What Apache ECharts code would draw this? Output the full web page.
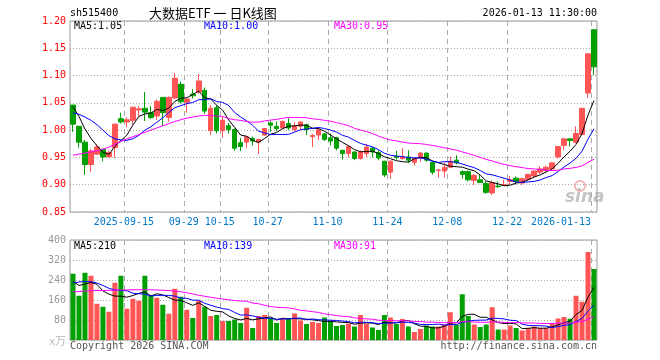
<!DOCTYPE html>
<html><head><meta charset="utf-8">
<script src="https://cdn.jsdelivr.net/npm/echarts@6/dist/echarts.min.js"></script>
<style>html,body{margin:0;padding:0;background:#fff}#c{width:660px;height:360px}</style>
</head><body><div id="c"></div>
<script>
const dates = ['2025-09-02','2025-09-03','2025-09-04','2025-09-05','2025-09-08','2025-09-09','2025-09-10','2025-09-11','2025-09-12','2025-09-15','2025-09-16','2025-09-17','2025-09-18','2025-09-19','2025-09-22','2025-09-23','2025-09-24','2025-09-25','2025-09-26','2025-09-29','2025-09-30','2025-10-09','2025-10-10','2025-10-13','2025-10-14','2025-10-15','2025-10-16','2025-10-17','2025-10-20','2025-10-21','2025-10-22','2025-10-23','2025-10-24','2025-10-27','2025-10-28','2025-10-29','2025-10-30','2025-10-31','2025-11-03','2025-11-04','2025-11-05','2025-11-06','2025-11-07','2025-11-10','2025-11-11','2025-11-12','2025-11-13','2025-11-14','2025-11-17','2025-11-18','2025-11-19','2025-11-20','2025-11-21','2025-11-24','2025-11-25','2025-11-26','2025-11-27','2025-11-28','2025-12-01','2025-12-02','2025-12-03','2025-12-04','2025-12-05','2025-12-08','2025-12-09','2025-12-10','2025-12-11','2025-12-12','2025-12-15','2025-12-16','2025-12-17','2025-12-18','2025-12-19','2025-12-22','2025-12-23','2025-12-24','2025-12-25','2025-12-26','2025-12-29','2025-12-30','2025-12-31','2026-01-05','2026-01-06','2026-01-07','2026-01-08','2026-01-09','2026-01-12','2026-01-13'];

const opens  = [1.046,1.007,0.978,0.937,0.956,0.965,0.951,0.968,1.021,1.015,1.018,1.037,1.040,1.032,1.026,1.060,1.023,1.059,1.084,1.051,1.066,1.070,1.073,0.999,1.041,0.999,1.008,1.001,0.977,0.978,0.985,0.978,0.991,1.013,1.007,1.004,1.012,1.001,1.007,1.010,0.988,0.991,0.993,0.986,0.986,0.963,0.957,0.960,0.948,0.957,0.967,0.959,0.943,0.923,0.952,0.948,0.951,0.941,0.949,0.958,0.941,0.926,0.925,0.932,0.945,0.924,0.924,0.908,0.909,0.902,0.885,0.8975,0.899,0.906,0.912,0.903,0.910,0.916,0.923,0.926,0.929,0.951,0.972,0.984,0.978,0.992,1.068,1.184];
const closes = [1.011,0.978,0.937,0.962,0.969,0.951,0.959,1.011,1.015,1.019,1.042,1.039,1.033,1.023,1.053,1.032,1.060,1.095,1.052,1.057,1.063,1.090,1.035,1.040,0.999,1.018,1.001,0.967,0.970,0.988,0.980,0.983,1.003,1.009,1.003,1.016,1.004,1.008,1.015,1.001,0.990,1.001,0.983,0.980,0.967,0.957,0.970,0.948,0.960,0.969,0.960,0.949,0.918,0.943,0.950,0.951,0.945,0.948,0.958,0.945,0.923,0.927,0.932,0.943,0.940,0.919,0.909,0.917,0.904,0.886,0.904,0.8965,0.900,0.909,0.906,0.911,0.919,0.925,0.929,0.932,0.940,0.970,0.984,0.981,0.994,1.040,1.140,1.116];
const lows   = [0.997,0.968,0.918,0.923,0.955,0.943,0.950,0.949,1.012,1.005,1.010,1.025,1.017,1.020,1.019,1.008,1.015,1.057,1.049,1.032,1.058,1.066,1.030,0.991,0.994,0.986,0.994,0.962,0.962,0.967,0.972,0.956,0.989,0.997,0.998,1.002,1.000,0.998,1.000,0.991,0.969,0.982,0.980,0.972,0.963,0.946,0.950,0.945,0.946,0.951,0.950,0.945,0.914,0.911,0.946,0.946,0.940,0.935,0.942,0.942,0.919,0.913,0.913,0.930,0.937,0.911,0.906,0.900,0.903,0.883,0.881,0.894,0.898,0.900,0.900,0.900,0.908,0.913,0.919,0.923,0.926,0.948,0.963,0.970,0.976,0.990,1.059,1.101];
const highs  = [1.046,1.008,0.982,0.965,0.974,0.966,0.963,1.012,1.032,1.024,1.043,1.044,1.070,1.044,1.056,1.060,1.062,1.105,1.089,1.058,1.075,1.103,1.078,1.046,1.046,1.024,1.013,1.003,0.986,0.989,0.988,0.984,1.004,1.017,1.016,1.018,1.022,1.015,1.016,1.012,0.993,1.003,0.995,0.994,0.988,0.964,0.972,0.961,0.963,0.975,0.969,0.963,0.944,0.945,0.962,0.967,0.963,0.949,0.960,0.959,0.942,0.928,0.941,0.951,0.954,0.926,0.926,0.920,0.919,0.907,0.908,0.906,0.909,0.916,0.915,0.913,0.920,0.926,0.934,0.935,0.941,0.971,0.985,0.985,1.007,1.041,1.140,1.184];
const volumes = [265,177,269,257,145,133,113,229,257,125,165,157,257,177,169,141,105,205,173,121,88,157,133,96,100,76,76,82,68,129,48,96,100,88,68,84,84,106,78,64,72,68,90,78,56,60,66,54,100,66,50,40,100,90,64,84,54,32,44,58,54,54,62,111,62,183,96,62,52,62,131,42,42,58,48,38,48,54,48,48,68,86,92,85,177,153,352,284];

const priceMa5Head  = [1.043,1.025,1.002,0.985];
const priceMa10Head = [1.032,1.029,1.024,1.018,1.010,1.000,0.990,0.984,0.982];
const priceMa30Head = [0.954,0.956,0.958,0.960,0.962,0.965,0.969,0.974,0.979,0.984,0.988,0.992,0.996,1.000,1.004,1.008,1.012,1.016,1.019,1.022,1.024,1.026,1.027,1.027,1.026,1.025,1.021,1.019,1.018];
const volMa5Head  = [235,218,224,230];
const volMa10Head = [228,232,234,233,228,218,207,200,198];
const volMa30Head = [192,194,196,197,198,198,199,199,200,200,201,201,201,201,200,199,198,196,193,189,184,179,175,171,167,164,161,158,156];

const xTickDates  = ['2025-09-15','2025-09-29','2025-10-15','2025-10-27','2025-11-10','2025-11-24','2025-12-08','2025-12-22','2026-01-13'];
const xTickLabels = ['2025-09-15','09-29','10-15','10-27','11-10','11-24','12-08','12-22','2026-01-13'];
const legendMain = ['MA5:1.05','MA10:1.00','MA30:0.95'];
const legendVol  = ['MA5:210','MA10:139','MA30:91'];

function movingAvg(src, n, head, dec) {
  return src.map((_, i) => {
    if (i < n - 1) return head[i];
    let s = 0; for (let k = i - n + 1; k <= i; k++) s += src[k];
    return +(s / n).toFixed(dec);
  });
}

const RED = '#ff5555', GREEN = '#00a000';
const MONO = "'DejaVu Sans Mono', monospace";
const tickSet = new Set(xTickDates);
const isTick = (i, v) => tickSet.has(v);

const chart = echarts.init(document.getElementById('c'), null, {renderer: 'canvas'});

const GRID0 = {left: 70, top: 21, width: 527, height: 191};
const GRID1 = {left: 70, top: 240, width: 527, height: 100};
const gridBase = {show: true, borderColor: '#999', borderWidth: 1};
const hSplit = {show: true, lineStyle: {color: '#aaa', width: 1, type: [1, 2]}};

const maColors = ['#000000', '#0000ff', '#ff00ff'];
const lineS = (data, color, xi) => ({type: 'line', xAxisIndex: xi, yAxisIndex: xi, data, symbol: 'none', silent: true,
  lineStyle: {width: 1, color}, itemStyle: {color}, z: 5});

const txt = (x, y, text, color, align, font) => ({type: 'text', x, y, silent: true,
  style: {text, fill: color, font: font || ('10px ' + MONO), textAlign: align || 'left', textVerticalAlign: 'middle', align: align || 'left', verticalAlign: 'middle'}});

const textGraphics = [
  txt(70, 13, 'sh515400', '#000'),
  txt(149, 13, '大数据ETF 一 日K线图', '#000', 'left', "13px 'Noto Sans CJK SC', sans-serif"),
  txt(597, 13, '2026-01-13 11:30:00', '#000', 'right'),
  txt(74, 26, legendMain[0], maColors[0]),
  txt(204, 26, legendMain[1], maColors[1]),
  txt(334, 26, legendMain[2], maColors[2]),
  txt(74, 246, legendVol[0], maColors[0]),
  txt(204, 246, legendVol[1], maColors[1]),
  txt(334, 246, legendVol[2], maColors[2]),
  txt(70, 346, 'Copyright 2026 SINA.COM', '#555'),
  txt(597, 346, 'http://finance.sina.com.cn', '#555', 'right'),
  txt(66, 341, 'x万', '#bbb', 'right', "11px 'Noto Sans CJK SC', sans-serif"),
  {type: 'circle', shape: {cx: 580, cy: 186, r: 5}, silent: true,
   style: {fill: 'none', stroke: 'rgba(230,90,90,0.45)', lineWidth: 2}},
  txt(565, 198, 'sina', 'rgba(150,150,150,0.55)', 'left', "italic bold 17px 'DejaVu Sans', sans-serif")
];

const option = {
  animation: false,
  backgroundColor: '#fff',
  grid: [Object.assign({}, GRID0, gridBase), Object.assign({}, GRID1, gridBase)],
  xAxis: [
    {type: 'category', gridIndex: 0, data: dates, boundaryGap: true,
     axisLine: {show: false}, axisTick: {show: false},
     axisLabel: {interval: isTick, margin: 5, hideOverlap: false,
       formatter: v => { const k = xTickDates.indexOf(v); const t = xTickLabels[k];
         return k === xTickDates.length - 1 ? '{e|' + t + '}' : '{m|' + t + '}'; },
       rich: {
         m: {padding: [0, 6, 0, 0], fontFamily: MONO, fontSize: 10, color: '#0078c8'},
         e: {padding: [0, 66, 0, 0], fontFamily: MONO, fontSize: 10, color: '#0078c8'}
       }},
     splitLine: {show: false}},
    {type: 'category', gridIndex: 1, data: dates, boundaryGap: true,
     axisLine: {show: false}, axisTick: {show: false}, axisLabel: {show: false},
     splitLine: {show: false}}
  ],
  yAxis: [
    {type: 'value', gridIndex: 0, min: 0.85, max: 1.20, interval: 0.05,
     axisLine: {show: false}, axisTick: {show: false},
     axisLabel: {color: '#ff0000', fontFamily: MONO, fontSize: 10, margin: 4, formatter: v => v.toFixed(2)},
     splitLine: hSplit},
    {type: 'value', gridIndex: 1, min: 0, max: 400, interval: 80,
     axisLine: {show: false}, axisTick: {show: false},
     axisLabel: {color: '#999', fontFamily: MONO, fontSize: 10, margin: 4, formatter: v => v === 0 ? '' : String(v)},
     splitLine: hSplit}
  ],
  series: [
    {type: 'candlestick', xAxisIndex: 0, yAxisIndex: 0, barWidth: 5, silent: true,
     data: dates.map((d, i) => [opens[i], closes[i], lows[i], highs[i]]),
     itemStyle: {color: RED, color0: GREEN, borderColor: RED, borderColor0: GREEN, borderColorDoji: RED, borderWidth: 1}},
    lineS(movingAvg(closes, 5, priceMa5Head, 4), maColors[0], 0),
    lineS(movingAvg(closes, 10, priceMa10Head, 4), maColors[1], 0),
    lineS(movingAvg(closes, 30, priceMa30Head, 4), maColors[2], 0),
    {type: 'bar', xAxisIndex: 1, yAxisIndex: 1, barWidth: 5, silent: true,
     data: volumes.map((v, i) => ({value: v, itemStyle: {color: closes[i] >= opens[i] ? RED : GREEN}}))},
    lineS(movingAvg(volumes, 5, volMa5Head, 1), maColors[0], 1),
    lineS(movingAvg(volumes, 10, volMa10Head, 1), maColors[1], 1),
    lineS(movingAvg(volumes, 30, volMa30Head, 1), maColors[2], 1)
  ],
  graphic: textGraphics
};
chart.setOption(option);

// dashed vertical date lines at the left edge of each tick day's band, placed through the x axis scale
const band = GRID0.width / dates.length;
const lineGraphics = [];
xTickDates.forEach(d => {
  const cx = chart.convertToPixel({xAxisIndex: 0}, d);
  const x = Math.round(cx - band / 2) + 0.5;
  [GRID0, GRID1].forEach(g => {
    lineGraphics.push({type: 'line', silent: true,
      shape: {x1: x, y1: g.top, x2: x, y2: g.top + g.height},
      style: {stroke: '#aaa', lineWidth: 1, lineDash: [5, 4]}});
  });
});
chart.setOption({graphic: textGraphics.concat(lineGraphics)});
</script>
</body></html>
